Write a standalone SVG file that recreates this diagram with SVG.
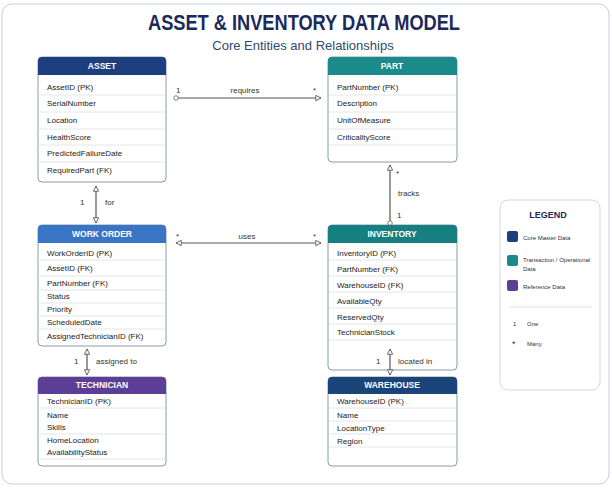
<svg xmlns="http://www.w3.org/2000/svg" width="612" height="490" viewBox="0 0 612 490">
<style>
text{font-family:"Liberation Sans",Arial,sans-serif;}
.box{fill:#fff;stroke:#8a9ab0;stroke-width:1;}
.hd{font-size:8.5px;font-weight:bold;fill:#fff;text-anchor:middle;}
.f{font-size:8px;fill:#222;}
.sep{stroke:#e3e6ea;stroke-width:1;}
.ln{stroke:#555;stroke-width:1.2;fill:none;}
.lb{font-size:8px;fill:#333;}
.lg{font-size:6px;fill:#333;}
</style>
<defs>
<marker id="ar" viewBox="0 0 8 8" refX="7" refY="4" markerWidth="7" markerHeight="7" orient="auto-start-reverse" markerUnits="userSpaceOnUse"><path d="M1,1 L7,4 L1,7 Z" fill="#fff" stroke="#555" stroke-width="1"/></marker>
<marker id="ci" viewBox="0 0 8 8" refX="4" refY="4" markerWidth="6" markerHeight="6" markerUnits="userSpaceOnUse"><circle cx="4" cy="4" r="3" fill="#fff" stroke="#555" stroke-width="1"/></marker>
</defs>
<rect x="2" y="4" width="607" height="480" rx="10" fill="#fff" stroke="#c8d0da"/>
<text x="304" y="30" font-size="22" font-weight="bold" fill="#1a2a5a" text-anchor="middle" textLength="312" lengthAdjust="spacingAndGlyphs">ASSET &amp; INVENTORY DATA MODEL</text>
<text x="303" y="50" font-size="13" fill="#2f4a6d" text-anchor="middle">Core Entities and Relationships</text>

<g id="asset">
<rect class="box" x="38" y="57" width="128" height="125" rx="4"/>
<path d="M38,75 V61 a4,4 0 0 1 4,-4 H162 a4,4 0 0 1 4,4 V75 Z" fill="#1e3f7f"/>
<text class="hd" x="102" y="69">ASSET</text>
<g class="sep"><line x1="39" y1="95" x2="165" y2="95"/><line x1="39" y1="112" x2="165" y2="112"/><line x1="39" y1="129" x2="165" y2="129"/><line x1="39" y1="145" x2="165" y2="145"/><line x1="39" y1="162" x2="165" y2="162"/></g>
<text class="f" x="47" y="90">AssetID (PK)</text><text class="f" x="47" y="106">SerialNumber</text><text class="f" x="47" y="123">Location</text><text class="f" x="47" y="140">HealthScore</text><text class="f" x="47" y="156">PredictedFailureDate</text><text class="f" x="47" y="173">RequiredPart (FK)</text>
</g>
<g id="part">
<rect class="box" x="328" y="57" width="129" height="105" rx="4"/>
<path d="M328,75 V61 a4,4 0 0 1 4,-4 H453 a4,4 0 0 1 4,4 V75 Z" fill="#1a8a8a"/>
<text class="hd" x="392" y="69">PART</text>
<g class="sep"><line x1="329" y1="95" x2="456" y2="95"/><line x1="329" y1="112" x2="456" y2="112"/><line x1="329" y1="129" x2="456" y2="129"/><line x1="329" y1="145" x2="456" y2="145"/></g>
<text class="f" x="337" y="90">PartNumber (PK)</text><text class="f" x="337" y="106">Description</text><text class="f" x="337" y="123">UnitOfMeasure</text><text class="f" x="337" y="140">CriticalityScore</text>
</g>
<g id="workorder">
<rect class="box" x="38" y="225" width="128" height="121" rx="4"/>
<path d="M38,243 V229 a4,4 0 0 1 4,-4 H162 a4,4 0 0 1 4,4 V243 Z" fill="#3a74c4"/>
<text class="hd" x="102" y="237">WORK ORDER</text>
<g class="sep"><line x1="39" y1="260" x2="165" y2="260"/><line x1="39" y1="276" x2="165" y2="276"/><line x1="39" y1="290" x2="165" y2="290"/><line x1="39" y1="303" x2="165" y2="303"/><line x1="39" y1="316" x2="165" y2="316"/><line x1="39" y1="329" x2="165" y2="329"/></g>
<text class="f" x="47" y="256">WorkOrderID (PK)</text><text class="f" x="47" y="271">AssetID (FK)</text><text class="f" x="47" y="286">PartNumber (FK)</text><text class="f" x="47" y="299">Status</text><text class="f" x="47" y="312">Priority</text><text class="f" x="47" y="325">ScheduledDate</text><text class="f" x="47" y="339">AssignedTechnicianID (FK)</text>
</g>
<g id="inventory">
<rect class="box" x="328" y="225" width="129" height="145" rx="4"/>
<path d="M328,243 V229 a4,4 0 0 1 4,-4 H453 a4,4 0 0 1 4,4 V243 Z" fill="#168080"/>
<text class="hd" x="392" y="237">INVENTORY</text>
<g class="sep"><line x1="329" y1="260" x2="456" y2="260"/><line x1="329" y1="276" x2="456" y2="276"/><line x1="329" y1="292" x2="456" y2="292"/><line x1="329" y1="308" x2="456" y2="308"/><line x1="329" y1="324" x2="456" y2="324"/><line x1="329" y1="340" x2="456" y2="340"/></g>
<text class="f" x="337" y="256">InventoryID (PK)</text><text class="f" x="337" y="272">PartNumber (FK)</text><text class="f" x="337" y="288">WarehouseID (FK)</text><text class="f" x="337" y="304">AvailableQty</text><text class="f" x="337" y="320">ReservedQty</text><text class="f" x="337" y="335">TechnicianStock</text>
</g>
<g id="technician">
<rect class="box" x="38" y="377" width="128" height="89" rx="4"/>
<path d="M38,394 V381 a4,4 0 0 1 4,-4 H162 a4,4 0 0 1 4,4 V394 Z" fill="#5b3f96"/>
<text class="hd" x="102" y="388">TECHNICIAN</text>
<g class="sep"><line x1="39" y1="408" x2="165" y2="408"/><line x1="39" y1="434" x2="165" y2="434"/><line x1="39" y1="459" x2="165" y2="459"/></g>
<text class="f" x="47" y="404">TechnicianID (PK)</text><text class="f" x="47" y="418">Name</text><text class="f" x="47" y="430">Skills</text><text class="f" x="47" y="443">HomeLocation</text><text class="f" x="47" y="455">AvailabilityStatus</text>
</g>
<g id="warehouse">
<rect class="box" x="328" y="377" width="129" height="89" rx="4"/>
<path d="M328,394 V381 a4,4 0 0 1 4,-4 H453 a4,4 0 0 1 4,4 V394 Z" fill="#1b4478"/>
<text class="hd" x="392" y="388">WAREHOUSE</text>
<g class="sep"><line x1="329" y1="408" x2="456" y2="408"/><line x1="329" y1="421" x2="456" y2="421"/><line x1="329" y1="434" x2="456" y2="434"/><line x1="329" y1="447" x2="456" y2="447"/></g>
<text class="f" x="337" y="404">WarehouseID (PK)</text><text class="f" x="337" y="418">Name</text><text class="f" x="337" y="431">LocationType</text><text class="f" x="337" y="444">Region</text>
</g>

<g id="connectors">
<line class="ln" x1="176" y1="98" x2="321" y2="98" marker-start="url(#ci)" marker-end="url(#ar)"/>
<text class="lb" x="176" y="93">1</text><text class="lb" x="245" y="93" text-anchor="middle">requires</text><text class="lb" x="313" y="93">*</text>
<line class="ln" x1="96" y1="186" x2="96" y2="223" marker-start="url(#ar)" marker-end="url(#ar)"/>
<text class="lb" x="80" y="205">1</text><text class="lb" x="105" y="205">for</text>
<line class="ln" x1="176" y1="243" x2="321" y2="243" marker-start="url(#ar)" marker-end="url(#ar)"/>
<text class="lb" x="176" y="239">*</text><text class="lb" x="247" y="239" text-anchor="middle">uses</text><text class="lb" x="313" y="239">*</text>
<line class="ln" x1="390" y1="165" x2="390" y2="223" marker-start="url(#ar)" marker-end="url(#ci)"/>
<text class="lb" x="396" y="176">*</text><text class="lb" x="398" y="196">tracks</text><text class="lb" x="397" y="218">1</text>
<line class="ln" x1="87" y1="349" x2="87" y2="375" marker-start="url(#ar)" marker-end="url(#ar)"/>
<text class="lb" x="74" y="364">1</text><text class="lb" x="96" y="364">assigned to</text>
<line class="ln" x1="390" y1="373" x2="390" y2="375"/>
<line class="ln" x1="390" y1="349" x2="390" y2="375" marker-start="url(#ar)" marker-end="url(#ar)"/>
<text class="lb" x="376" y="364">1</text><text class="lb" x="398" y="364">located in</text>
</g>

<g id="legend">
<rect x="500" y="200" width="100" height="190" rx="8" fill="#fff" stroke="#d3d8de"/>
<text x="548" y="218" font-size="9" font-weight="bold" fill="#1a2a5a" text-anchor="middle">LEGEND</text>
<rect x="507" y="231" width="11" height="11" rx="2" fill="#1e3f7f"/><text class="lg" x="523" y="240">Core Master Data</text>
<rect x="507" y="255" width="11" height="11" rx="2" fill="#1a8a8a"/><text class="lg" x="523" y="262">Transaction / Operational</text><text class="lg" x="523" y="271">Data</text>
<rect x="507" y="280" width="11" height="11" rx="2" fill="#5b3f96"/><text class="lg" x="523" y="289">Reference Data</text>
<line x1="510" y1="307" x2="592" y2="307" stroke="#dde1e6"/>
<text class="lg" x="513" y="326">1</text><text class="lg" x="527" y="326">One</text>
<text x="512" y="347" font-size="9" fill="#333">*</text><text class="lg" x="527" y="346">Many</text>
</g>
</svg>
